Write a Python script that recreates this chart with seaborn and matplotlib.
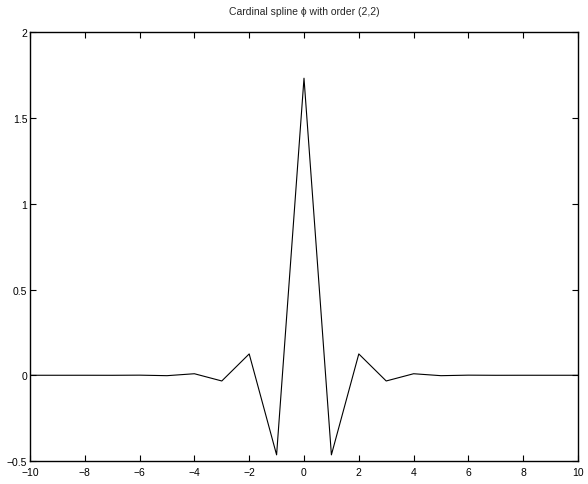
import matplotlib
matplotlib.use("Agg")
import matplotlib.pyplot as plt
import seaborn as sns
import pandas as pd

# Sample positions and values of the cardinal spline
knots = list(range(-10, 11))
phi_values = [0.0000033, -0.0000124, 0.000046, -0.00017, 0.00064, -0.0024,
              0.0089, -0.0333, 0.1244, -0.4641, 1.7321, -0.4641, 0.1244,
              -0.0333, 0.0089, -0.0024, 0.00064, -0.00017, 0.000046,
              -0.0000124, 0.0000033]
x_ticks = [-10, -8, -6, -4, -2, 0, 2, 4, 6, 8, 10]
y_ticks = [-0.5, 0, 0.5, 1, 1.5, 2]
y_tick_labels = ["\u22120.5", "0", "0.5", "1", "1.5", "2"]
x_tick_labels = ["\u221210", "\u22128", "\u22126", "\u22124", "\u22122",
                 "0", "2", "4", "6", "8", "10"]

sns.set_style("ticks")
plt.rcParams["font.family"] = ["Liberation Sans", "DejaVu Sans"]

df = pd.DataFrame({"x": knots, "phi": phi_values})

fig = plt.figure(figsize=(5.88, 4.85), dpi=100)
ax = fig.add_axes([0.051, 0.0474, 0.932, 0.884])

sns.lineplot(data=df, x="x", y="phi", color="black", linewidth=0.8, ax=ax)

ax.set_xlim(-10, 10)
ax.set_ylim(-0.5, 2)
ax.set_xticks(x_ticks)
ax.set_xticklabels(x_tick_labels)
ax.set_yticks(y_ticks)
ax.set_yticklabels(y_tick_labels)
ax.set_xlabel("")
ax.set_ylabel("")

for side in ["top", "right", "bottom", "left"]:
    ax.spines[side].set_visible(True)
    ax.spines[side].set_linewidth(1.0)
    ax.spines[side].set_color("black")

ax.tick_params(axis="both", direction="in", length=4, width=0.8,
               labelsize=7.5, colors="black", top=True, right=True)
ax.tick_params(axis="x", pad=4)
ax.tick_params(axis="y", pad=2)

ax.set_title("Cardinal spline \u03d5 with order (2,2)", fontsize=7.5, pad=13)

fig.savefig("out.png", dpi=100)
